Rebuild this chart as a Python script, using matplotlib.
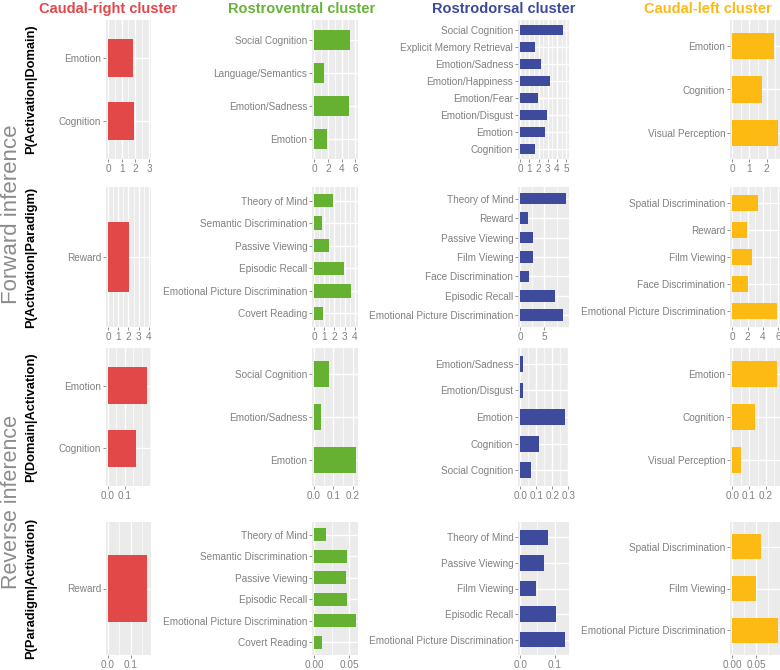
import numpy as np
import matplotlib
matplotlib.use("Agg")
import matplotlib.pyplot as plt

plt.rcParams['font.family'] = ['Liberation Sans', 'DejaVu Sans']

clusters = ["Caudal-right cluster", "Rostroventral cluster", "Rostrodorsal cluster", "Caudal-left cluster"]
cluster_colors = ["#E2474B", "#68B23A", "#3D4A9C", "#FBB917"]
bar_colors = ["#E34848", "#66B032", "#3E4A9C", "#FCBA12"]

row_titles = ["P(Activation|Domain)", "P(Activation|Paradigm)", "P(Domain|Activation)", "P(Paradigm|Activation)"]

# ---- Caudal-right cluster
cr_fwd_dom = ["Emotion", "Cognition"]
cr_fwd_dom_vals = [1.86, 1.91]
cr_fwd_par = ["Reward"]
cr_fwd_par_vals = [2.05]
cr_rev_dom = ["Emotion", "Cognition"]
cr_rev_dom_vals = [0.235, 0.165]
cr_rev_par = ["Reward"]
cr_rev_par_vals = [0.17]

# ---- Rostroventral cluster
rv_fwd_dom = ["Social Cognition", "Language/Semantics", "Emotion/Sadness", "Emotion"]
rv_fwd_dom_vals = [5.19, 1.44, 5.04, 1.93]
rv_fwd_par = ["Theory of Mind", "Semantic Discrimination", "Passive Viewing", "Episodic Recall",
              "Emotional Picture Discrimination", "Covert Reading"]
rv_fwd_par_vals = [1.82, 0.75, 1.5, 2.93, 3.58, 0.85]
rv_rev_dom = ["Social Cognition", "Emotion/Sadness", "Emotion"]
rv_rev_dom_vals = [0.079, 0.038, 0.217]
rv_rev_par = ["Theory of Mind", "Semantic Discrimination", "Passive Viewing", "Episodic Recall",
              "Emotional Picture Discrimination", "Covert Reading"]
rv_rev_par_vals = [0.0175, 0.0466, 0.0456, 0.0476, 0.0597, 0.011]

# ---- Rostrodorsal cluster
rd_fwd_dom = ["Social Cognition", "Explicit Memory Retrieval", "Emotion/Sadness", "Emotion/Happiness",
              "Emotion/Fear", "Emotion/Disgust", "Emotion", "Cognition"]
rd_fwd_dom_vals = [4.68, 1.58, 2.27, 3.2, 1.94, 2.88, 2.66, 1.58]
rd_fwd_par = ["Theory of Mind", "Reward", "Passive Viewing", "Film Viewing", "Face Discrimination",
              "Episodic Recall", "Emotional Picture Discrimination"]
rd_fwd_par_vals = [9.5, 1.6, 2.57, 2.57, 1.88, 7.15, 8.75]
rd_rev_dom = ["Emotion/Sadness", "Emotion/Disgust", "Emotion", "Cognition", "Social Cognition"]
rd_rev_dom_vals = [0.016, 0.018, 0.282, 0.116, 0.066]
rd_rev_par = ["Theory of Mind", "Passive Viewing", "Film Viewing", "Episodic Recall",
              "Emotional Picture Discrimination"]
rd_rev_par_vals = [0.08, 0.069, 0.047, 0.103, 0.129]

# ---- Caudal-left cluster
cl_fwd_dom = ["Emotion", "Cognition", "Visual Perception"]
cl_fwd_dom_vals = [2.45, 1.75, 2.65]
cl_fwd_par = ["Spatial Discrimination", "Reward", "Film Viewing", "Face Discrimination",
              "Emotional Picture Discrimination"]
cl_fwd_par_vals = [3.42, 1.87, 2.53, 2.0, 5.9]
cl_rev_dom = ["Emotion", "Cognition", "Visual Perception"]
cl_rev_dom_vals = [0.268, 0.134, 0.05]
cl_rev_par = ["Spatial Discrimination", "Film Viewing", "Emotional Picture Discrimination"]
cl_rev_par_vals = [0.059, 0.0486, 0.095]

panels = [
    [(cr_fwd_dom, cr_fwd_dom_vals), (rv_fwd_dom, rv_fwd_dom_vals), (rd_fwd_dom, rd_fwd_dom_vals), (cl_fwd_dom, cl_fwd_dom_vals)],
    [(cr_fwd_par, cr_fwd_par_vals), (rv_fwd_par, rv_fwd_par_vals), (rd_fwd_par, rd_fwd_par_vals), (cl_fwd_par, cl_fwd_par_vals)],
    [(cr_rev_dom, cr_rev_dom_vals), (rv_rev_dom, rv_rev_dom_vals), (rd_rev_dom, rd_rev_dom_vals), (cl_rev_dom, cl_rev_dom_vals)],
    [(cr_rev_par, cr_rev_par_vals), (rv_rev_par, rv_rev_par_vals), (rd_rev_par, rd_rev_par_vals), (cl_rev_par, cl_rev_par_vals)],
]

# axis upper limits and breaks per panel
axis_max = [[3, 6.1, 5.05, 2.65],
            [4, 4.1, 9.6, 5.95],
            [0.244, 0.217, 0.29, 0.27],
            [0.18, 0.06, 0.135, 0.095]]
axis_ticks = [[[0, 1, 2, 3], [0, 2, 4, 6], [0, 1, 2, 3, 4, 5], [0, 1, 2]],
              [[0, 1, 2, 3, 4], [0, 1, 2, 3, 4], [0, 5], [0, 2, 4, 6]],
              [[0, 0.1], [0, 0.1, 0.2], [0, 0.1, 0.2, 0.3], [0, 0.1, 0.2]],
              [[0, 0.1], [0, 0.05], [0, 0.1], [0, 0.05]]]
tick_fmt_rows = [["{:g}"] * 4, ["{:g}"] * 4, ["{:.1f}"] * 4, ["{:.1f}", "{:.2f}", "{:.1f}", "{:.2f}"]]

# pixel layout
W, H = 780, 670
col_lr = [(106, 151), (312, 358), (518, 569), (730, 780)]
row_tb = [(20, 159), (187, 327), (348, 486), (522, 655)]

fig = plt.figure(figsize=(W / 100, H / 100), dpi=100)
fig.patch.set_facecolor("white")

gray = "#808080"
for r in range(4):
    for c in range(4):
        l, rr = col_lr[c]
        t, b = row_tb[r]
        ax = fig.add_axes([l / W, 1 - b / H, (rr - l) / W, (b - t) / H])
        labels, vals = panels[r][c]
        n = len(labels)
        ypos = [n - i for i in range(n)]
        M = axis_max[r][c]
        ticks = axis_ticks[r][c]
        ax.set_facecolor("#EBEBEB")
        ax.barh(ypos, vals, height=0.6, color=bar_colors[c], zorder=3)
        ax.set_ylim(0.4, n + 0.6)
        ax.set_xlim(-0.05 * M, 1.05 * M)
        ax.set_yticks(ypos)
        ax.set_yticklabels(labels)
        ax.set_xticks(ticks)
        ax.set_xticklabels([tick_fmt_rows[r][c].format(v) for v in ticks])
        step = ticks[1] - ticks[0]
        minors = [m for m in np.arange(-step / 2, 1.05 * M, step / 2)
                  if -0.05 * M < m < 1.05 * M and min(abs(m - tk) for tk in ticks) > step / 10]
        ax.set_xticks(minors, minor=True)
        ax.tick_params(axis='x', which='minor', length=0)
        ax.grid(which='major', color='white', lw=1.0, zorder=0)
        ax.grid(which='minor', axis='x', color='white', lw=0.5, zorder=0)
        ax.set_axisbelow(True)
        for s in ax.spines.values():
            s.set_visible(False)
        ax.tick_params(which='major', colors=gray, labelsize=7.2, length=2.2, width=0.6, pad=1.2)

# column titles
title_x = [108, 302, 504, 708]
for c in range(4):
    fig.text(title_x[c] / W, 1 - 9 / H, clusters[c], ha='center', va='center',
             fontsize=10.5, fontweight='bold', color=cluster_colors[c])

# row labels
for r in range(4):
    t, b = row_tb[r]
    fig.text(31 / W, 1 - (t + b) / 2 / H, row_titles[r], rotation=90, ha='center', va='center',
             fontsize=9.3, fontweight='bold', color='black')

fig.text(12 / W, 1 - 214 / H, "Forward inference", rotation=90, ha='center', va='center',
         fontsize=16, color="#8C8C8C")
fig.text(12 / W, 1 - 502 / H, "Reverse inference", rotation=90, ha='center', va='center',
         fontsize=15.5, color="#8C8C8C")

fig.savefig("out.png", dpi=100)
